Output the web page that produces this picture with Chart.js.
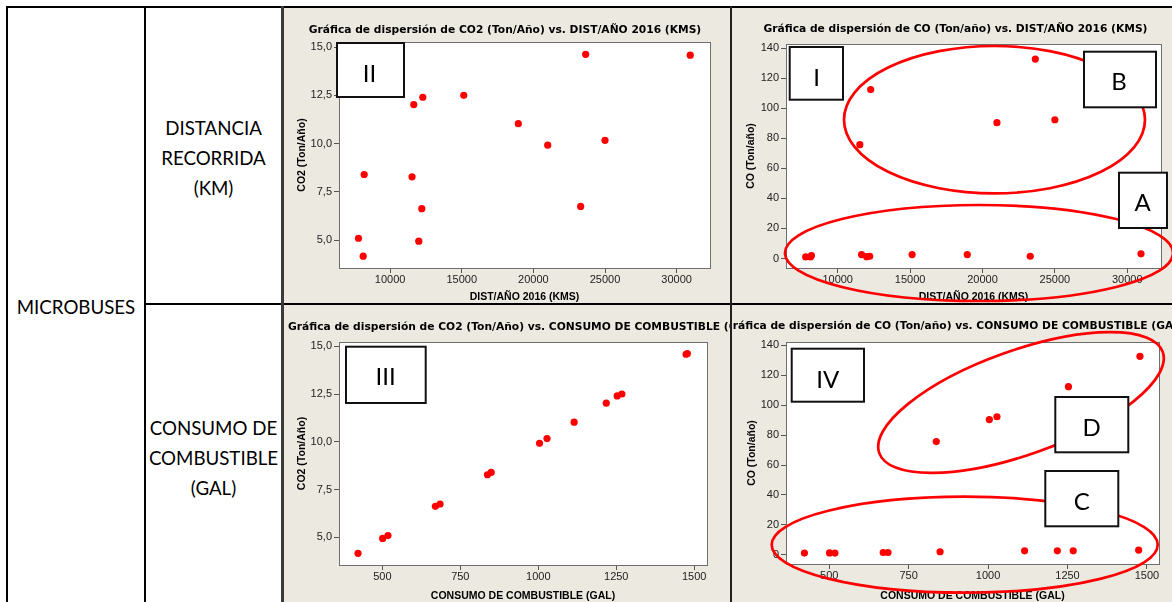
<!DOCTYPE html>
<html>
<head>
<meta charset="utf-8">
<script src="https://cdn.jsdelivr.net/npm/chart.js@4.4.1/dist/chart.umd.min.js"></script>
<style>
  body { margin: 0; width: 1172px; height: 602px; overflow: hidden; background: #fff; position: relative; font-family: Lato, sans-serif; }
  .panel { position: absolute; background: #ECE9E0; overflow: hidden; }
  .line { position: absolute; background: #000; }
  .cell { position: absolute; text-align: center; font-size: 18.7px; line-height: 30px; color: #000; }
  svg { position: absolute; left: 0; top: 0; }
</style>
</head>
<body>

<div class="cell" style="left:8px; width:136px; top:292px;">MICROBUSES</div>
<div class="cell" style="left:146px; width:135px; top:113px;">DISTANCIA<br>RECORRIDA<br>(KM)</div>
<div class="cell" style="left:146px; width:135px; top:413px;">CONSUMO DE<br>COMBUSTIBLE<br>(GAL)</div>

<div class="panel" style="left:284px; top:8px; width:446px; height:295px;"><canvas id="c1" width="446" height="295"></canvas></div>
<div class="panel" style="left:732px; top:8px; width:440px; height:295px;"><canvas id="c2" width="440" height="295"></canvas></div>
<div class="panel" style="left:284px; top:305px; width:446px; height:297px;"><canvas id="c3" width="446" height="297"></canvas></div>
<div class="panel" style="left:732px; top:305px; width:440px; height:297px;"><canvas id="c4" width="440" height="297"></canvas></div>

<!-- table lines -->
<div class="line" style="left:6px; top:6px; width:1166px; height:2px;"></div>
<div class="line" style="left:6px; top:6px; width:2px; height:596px;"></div>
<div class="line" style="left:144px; top:6px; width:2px; height:596px;"></div>
<div class="line" style="left:144px; top:303px; width:1028px; height:2px;"></div>
<div class="line" style="left:281px; top:6px; width:3px; height:596px; background:#3a3a3a;"></div>
<div class="line" style="left:730px; top:6px; width:2px; height:596px; background:#222;"></div>

<svg width="1172" height="602">
  <g fill="none" stroke="#FF0000" stroke-width="2.7">
    <ellipse cx="994.5" cy="119.7" rx="150.5" ry="73.7"/>
    <ellipse cx="979" cy="253" rx="194" ry="48"/>
    <ellipse cx="964.7" cy="544.7" rx="193" ry="48"/>
    <ellipse cx="1021" cy="402.5" rx="150.5" ry="52" transform="rotate(-19.65 1021 402.5)"/>
  </g>
  <g fill="#fff" stroke="#111" stroke-width="2">
    <rect x="337" y="43" width="67" height="54"/>
    <rect x="789.7" y="47" width="53.3" height="52.7"/>
    <rect x="1084" y="51.7" width="72" height="55.6"/>
    <rect x="1119" y="172.7" width="48" height="55.3"/>
    <rect x="346" y="346.7" width="79.7" height="56.3"/>
    <rect x="791.7" y="348.7" width="72.3" height="53"/>
    <rect x="1055.3" y="397" width="73" height="55.3"/>
    <rect x="1045.3" y="471" width="73" height="55.3"/>
  </g>
  <g font-family="Lato" font-size="24" fill="#000" text-anchor="middle" dominant-baseline="central">
    <text x="369.5" y="72">II</text>
    <text x="816.7" y="76.7">I</text>
    <text x="1119" y="80.7">B</text>
    <text x="1142.7" y="201.7">A</text>
    <text x="385.7" y="375">III</text>
    <text x="827.7" y="378.3">IV</text>
    <text x="1091.7" y="426.7">D</text>
    <text x="1081.7" y="500">C</text>
  </g>
</svg>

<script>
// one entry per microbus
const distKm  = [23650, 30950, 15140, 12280, 11650, 18950, 25000, 21000, 8190, 11530, 23300, 12210, 7790, 12000, 8120];
const co2Ton  = [14.62, 14.58, 12.50, 12.40, 12.02, 11.03, 10.17, 9.92, 8.40, 8.28, 6.75, 6.63, 5.10, 4.95, 4.17];
const fuelGal = [1478, 1474, 1268, 1253, 1218, 1115, 1028, 1004, 849, 837, 685, 670, 518, 501, 422];
const coTon   = [132.7, 3.1, 2.6, 112.4, 2.6, 2.6, 92.3, 90.4, 2.0, 75.7, 1.5, 1.5, 1.1, 1.2, 1.1];

const distTicks = [10000, 15000, 20000, 25000, 30000];
const fuelTicks = [500, 750, 1000, 1250, 1500];
const co2Ticks  = [5, 7.5, 10, 12.5, 15];
const coTicks   = [0, 20, 40, 60, 80, 100, 120, 140];

const FONT = '"Liberation Sans", Arial, sans-serif';
const TITLE_FONT = 'bold 10.7px "DejaVu Sans", sans-serif';

const plotFrame = {
    id: 'plotFrame',
    beforeDraw(chart) {
        const a = chart.chartArea, ctx = chart.ctx;
        ctx.save();
        ctx.fillStyle = '#fff';
        ctx.fillRect(a.left, a.top, a.right - a.left, a.bottom - a.top);
        ctx.restore();
    },
    afterDraw(chart) {
        const a = chart.chartArea, ctx = chart.ctx;
        ctx.save();
        ctx.strokeStyle = '#6e6e6e';
        ctx.lineWidth = 1;
        ctx.strokeRect(Math.round(a.left) + 0.5, Math.round(a.top) + 0.5,
                       Math.round(a.right - a.left), Math.round(a.bottom - a.top));
        ctx.restore();
    }
};

const panelTitle = {
    id: 'panelTitle',
    afterDraw(chart, args, o) {
        const ctx = chart.ctx;
        ctx.save();
        ctx.font = TITLE_FONT;
        ctx.fillStyle = '#000';
        ctx.textAlign = o.align;
        ctx.textBaseline = 'middle';
        ctx.fillText(o.text, o.x, o.y);
        ctx.restore();
    }
};

function comma(v) { return v.toFixed(1).replace('.', ','); }

function scatter(id, xs, ys, cfg) {
    const ctx = document.getElementById(id).getContext('2d');
    return new Chart(ctx, {
        type: 'scatter',
        data: {
            datasets: [{
                data: xs.map((x, i) => ({ x: x, y: ys[i] })),
                backgroundColor: '#FF0000',
                borderWidth: 0,
                pointRadius: 3.6,
                pointHoverRadius: 3.6
            }]
        },
        options: {
            responsive: false,
            animation: false,
            events: [],
            layout: { padding: { left: 0, right: cfg.padRight, top: cfg.padTop, bottom: 0 } },
            plugins: {
                legend: { display: false },
                tooltip: { enabled: false },
                panelTitle: cfg.title
            },
            scales: {
                x: {
                    type: 'linear',
                    min: cfg.xMin, max: cfg.xMax,
                    afterBuildTicks: s => { s.ticks = cfg.xTicks.map(v => ({ value: v })); },
                    afterFit: s => { s.height = cfg.xHeight; },
                    ticks: { font: { family: FONT, size: 11 }, color: '#222', padding: 0, maxRotation: 0, autoSkip: false,
                             callback: v => String(v) },
                    grid: { drawOnChartArea: false, drawTicks: true, tickLength: 5, color: '#555' },
                    border: { display: false },
                    title: { display: true, text: cfg.xTitle, color: '#000',
                             font: { family: FONT, size: 10.5, weight: 'bold' }, padding: { top: cfg.xTitlePad, bottom: 0 } }
                },
                y: {
                    type: 'linear',
                    min: cfg.yMin, max: cfg.yMax,
                    afterBuildTicks: s => { s.ticks = cfg.yTicks.map(v => ({ value: v })); },
                    afterFit: s => { s.width = cfg.yWidth; },
                    ticks: { font: { family: FONT, size: 11 }, color: '#222', padding: 2, autoSkip: false,
                             callback: cfg.yFmt },
                    grid: { drawOnChartArea: false, drawTicks: true, tickLength: 5, color: '#555' },
                    border: { display: false },
                    title: { display: true, text: cfg.yTitle, color: '#000',
                             font: { family: FONT, size: 10.5, weight: 'bold' }, padding: { top: cfg.yTitlePad, bottom: 0 } }
                }
            }
        },
        plugins: [plotFrame, panelTitle]
    });
}

scatter('c1', distKm, co2Ton, {
    xMin: 6430, xMax: 32330, xTicks: distTicks, xTitle: 'DIST/AÑO 2016 (KMS)',
    yMin: 3.56, yMax: 15.26, yTicks: co2Ticks, yTitle: 'CO2 (Ton/Año)', yFmt: comma,
    padRight: 20, padTop: 34, xHeight: 35, yWidth: 55, xTitlePad: 4, yTitlePad: 11.4,
    title: { text: 'Gráfica de dispersión de CO2 (Ton/Año) vs. DIST/AÑO 2016 (KMS)', x: 221, y: 22, align: 'center' }
});

scatter('c2', distKm, coTon, {
    xMin: 6430, xMax: 32330, xTicks: distTicks, xTitle: 'DIST/AÑO 2016 (KMS)',
    yMin: -6.3, yMax: 142.7, yTicks: coTicks, yTitle: 'CO (Ton/año)', yFmt: v => String(v),
    padRight: 11, padTop: 36, xHeight: 35, yWidth: 54, xTitlePad: 3.4, yTitlePad: 12.4,
    title: { text: 'Gráfica de dispersión de CO (Ton/año) vs. DIST/AÑO 2016 (KMS)', x: 223.5, y: 21.3, align: 'center' }
});

scatter('c3', fuelGal, co2Ton, {
    xMin: 361, xMax: 1541, xTicks: fuelTicks, xTitle: 'CONSUMO DE COMBUSTIBLE (GAL)',
    yMin: 3.56, yMax: 15.22, yTicks: co2Ticks, yTitle: 'CO2 (Ton/Año)', yFmt: comma,
    padRight: 23, padTop: 37, xHeight: 37, yWidth: 55, xTitlePad: 7.4, yTitlePad: 11.4,
    title: { text: 'Gráfica de dispersión de CO2 (Ton/Año) vs. CONSUMO DE COMBUSTIBLE (GAL)', x: 4, y: 22, align: 'left' }
});

scatter('c4', fuelGal, coTon, {
    xMin: 364, xMax: 1538, xTicks: fuelTicks, xTitle: 'CONSUMO DE COMBUSTIBLE (GAL)',
    yMin: -6.2, yMax: 142.3, yTicks: coTicks, yTitle: 'CO (Ton/año)', yFmt: v => String(v),
    padRight: 13, padTop: 37, xHeight: 38, yWidth: 54, xTitlePad: 7.4, yTitlePad: 13.4,
    title: { text: 'Gráfica de dispersión de CO (Ton/año) vs. CONSUMO DE COMBUSTIBLE (GAL)', x: -8, y: 21.7, align: 'left' }
});
</script>
</body>
</html>
